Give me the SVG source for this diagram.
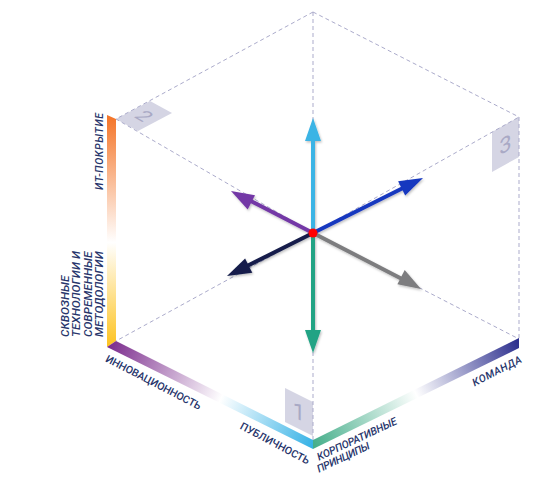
<svg xmlns="http://www.w3.org/2000/svg" width="542" height="489" viewBox="0 0 542 489">
<style>
.dash{stroke:#ababcb;stroke-width:1;stroke-dasharray:4 3;fill:none}
.lbl{font-family:Roboto,"Liberation Sans",sans-serif;font-size:10.5px;font-weight:500;fill:#27356b;dominant-baseline:central}
.it{font-style:italic}
.big{font-size:11.8px}
.tag{fill:#d5d5e4}
.num{font-family:Roboto,"Liberation Sans",sans-serif;font-size:22px;fill:#a9a9c5;text-anchor:middle;dominant-baseline:central}
.shaft{stroke-width:4;fill:none}
</style>
<defs>
<linearGradient id="gv" gradientUnits="userSpaceOnUse" x1="0" y1="117" x2="0" y2="345">
<stop offset="0" stop-color="#f4762a"/><stop offset="0.55" stop-color="#ffffff"/><stop offset="1" stop-color="#fdc423"/>
</linearGradient>
<linearGradient id="gl" gradientUnits="userSpaceOnUse" x1="107" y1="345" x2="313" y2="445">
<stop offset="0" stop-color="#7a2a8c"/><stop offset="0.55" stop-color="#ffffff"/><stop offset="1" stop-color="#36b2e6"/>
</linearGradient>
<linearGradient id="gr" gradientUnits="userSpaceOnUse" x1="313" y1="445" x2="519" y2="343">
<stop offset="0" stop-color="#45ae8a"/><stop offset="0.5" stop-color="#ffffff"/><stop offset="1" stop-color="#2c2f8e"/>
</linearGradient>
<filter id="sh" x="-20%" y="-20%" width="140%" height="140%">
<feDropShadow dx="1" dy="1.5" stdDeviation="1" flood-color="#000" flood-opacity="0.25"/>
</filter>
</defs>

<g id="tags">
<g id="tag-1"><polygon class="tag" points="285,388 313,402 313,436 285,422"/><text class="num" transform="translate(299,412) skewY(26.6)">1</text></g>
<g id="tag-2"><polygon class="tag" points="116,119 150,101 172,113 138,131"/><text class="num" transform="matrix(0.8,0.46,-0.8,0.46,144,116)">2</text></g>
<g id="tag-3"><polygon class="tag" points="519,117 492,132 492,172 519,157"/><text class="num" transform="translate(505.5,144.5) skewY(-29)">3</text></g>
</g>

<g id="edges">
<line class="dash" x1="313" y1="12" x2="116" y2="119"/>
<line class="dash" x1="313" y1="12" x2="519" y2="117"/>
<line class="dash" x1="519" y1="117" x2="519" y2="339"/>
<line class="dash" x1="313" y1="233" x2="313" y2="12"/>
<line class="dash" x1="313" y1="233" x2="116" y2="119"/>
<line class="dash" x1="313" y1="233" x2="519" y2="117"/>
<line class="dash" x1="313" y1="233" x2="116" y2="341"/>
<line class="dash" x1="313" y1="233" x2="313" y2="440"/>
<line class="dash" x1="313" y1="233" x2="519" y2="339"/>
</g>

<g id="bands">
<polygon id="band-left" points="107,115 116,119 116,341 107,347" fill="url(#gv)"/>
<polygon id="band-bottom-left" points="107,347 116,341 313,440 313,449" fill="url(#gl)"/>
<polygon id="band-bottom-right" points="313,440 519,338 519,348 313,449" fill="url(#gr)"/>
</g>

<g id="labels">
<text id="t-it" class="lbl it" transform="translate(99,190) rotate(-90)" textLength="77">ИТ-ПОКРЫТИЕ</text>
<text id="t-skv" class="lbl it big" transform="translate(65,337) rotate(-90)"><tspan x="0" y="0">СКВОЗНЫЕ</tspan><tspan x="0" y="11.3">ТЕХНОЛОГИИ И</tspan><tspan x="0" y="22.6">СОВРЕМЕННЫЕ</tspan><tspan x="0" y="33.9">МЕТОДОЛОГИИ</tspan></text>
<text id="t-inn" class="lbl" text-anchor="middle" transform="translate(153.5,382.5) rotate(27.5)" textLength="106">ИННОВАЦИОННОСТЬ</text>
<text id="t-pub" class="lbl" text-anchor="middle" transform="translate(275,443.5) rotate(28)" textLength="77">ПУБЛИЧНОСТЬ</text>
<text id="t-korp" class="lbl it" transform="translate(317.5,457.5) rotate(-25)" textLength="87">КОРПОРАТИВНЫЕ</text>
<text id="t-prin" class="lbl it" transform="translate(317.5,469.5) rotate(-25)" textLength="57">ПРИНЦИПЫ</text>
<text id="t-kom" class="lbl it" text-anchor="middle" transform="translate(497,371) rotate(-27)" textLength="54">КОМАНДА</text>
</g>

<g id="connectors" filter="url(#sh)">
<g id="arrow-up"><line class="shaft" stroke="#3ab4e5" x1="313" y1="233" x2="313" y2="138"/><polygon fill="#3ab4e5" points="313,118 305,141 321,141"/></g>
<g id="arrow-down"><line class="shaft" stroke="#22a384" x1="313" y1="233" x2="313" y2="332"/><polygon fill="#22a384" points="313,353 305,330 321,330"/></g>
<g id="arrow-ur"><line class="shaft" stroke="#1637bf" x1="313" y1="233" x2="405" y2="187"/><polygon fill="#1637bf" points="423,178 398.1,181.3 405.2,195.6"/></g>
<g id="arrow-ul"><line class="shaft" stroke="#7337a6" x1="313" y1="233" x2="247" y2="199"/><polygon fill="#7337a6" points="231,191 247.7,209.6 255.0,195.3"/></g>
<g id="arrow-ll"><line class="shaft" stroke="#151e4b" x1="313" y1="233" x2="244" y2="267.5"/><polygon fill="#151e4b" points="227,276 252.3,272.7 245.1,258.4"/></g>
<g id="arrow-lr"><line class="shaft" stroke="#7d7d7f" x1="313" y1="233" x2="404" y2="280"/><polygon fill="#7d7d7f" points="421,289 404.7,270.1 397.4,284.3"/></g>
<circle id="origin" cx="313" cy="233" r="4.5" fill="#ff0000"/>
</g>
</svg>
